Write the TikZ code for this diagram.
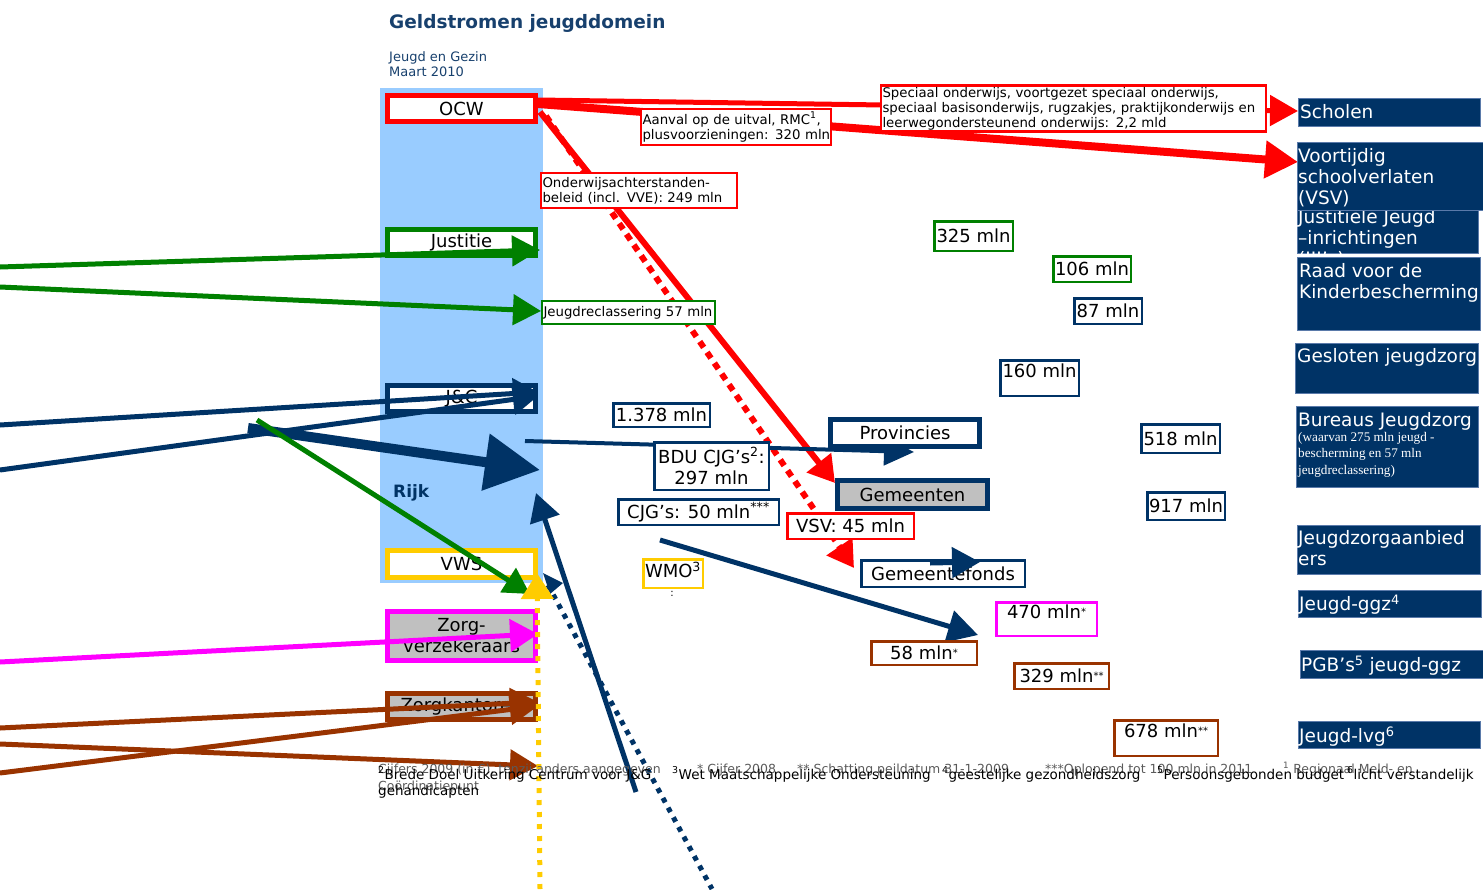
\documentclass[tikz,border=0pt]{standalone}
\usepackage{fontspec}
\setmainfont{DejaVu Sans}
\newfontfamily\subserif{Liberation Serif}
\usetikzlibrary{arrows.meta}
\definecolor{cred}{HTML}{FF0000}
\definecolor{cgreen}{HTML}{008000}
\definecolor{cnavy}{HTML}{003366}
\definecolor{cyellow}{HTML}{FFCC00}
\definecolor{cmag}{HTML}{FF00FF}
\definecolor{cbrown}{HTML}{993300}
\definecolor{cltblue}{HTML}{99CCFF}
\definecolor{cgray}{HTML}{C0C0C0}
\definecolor{ctitle}{HTML}{17406D}
\definecolor{cedge}{HTML}{5A7AAA}
\definecolor{cfoot}{HTML}{5A5A5A}
\newcommand{\myfs}[2]{\fontsize{#1}{#2}\selectfont}
\pgfdeclarelayer{bg}
\pgfdeclarelayer{flows}
\pgfdeclarelayer{fg}
\pgfsetlayers{bg,flows,main,fg}
\begin{document}
\begin{tikzpicture}[x=1pt,y=-1pt,
  ministry/.style={draw, line width=5pt, fill=white, inner sep=0pt, minimum width=148pt, minimum height=26pt, font=\myfs{18}{21}, align=center},
  lab/.style={draw, line width=2.5pt, fill=white, inner sep=0pt, font=\myfs{18}{21}, align=center},
  mynote/.style={draw=cred, line width=2.5pt, fill=white, inner sep=1.5pt, font=\myfs{13.3}{15}, align=left},
  rbox/.style={fill=cnavy, draw=cedge, line width=1pt, anchor=north west, inner sep=0pt},
  rtext/.style={text=white, font=\myfs{18.5}{21}, align=left, anchor=north west, inner sep=1pt},
  myflow/.style={line width=5pt},
  foot/.style={anchor=base west, inner sep=0pt, font=\myfs{13.5}{16}},
  footg/.style={anchor=base west, inner sep=0pt, font=\myfs{12.5}{16}, text=cfoot},
]
\useasboundingbox (0,0) rectangle (1483,889);

% ---------- background: Rijk column and ministries ----------
\begin{pgfonlayer}{bg}
\fill[cltblue] (380,88) rectangle (543,583);
\node[ministry, draw=cred] (ocw) at (461.5,108.5) {OCW};
\node[ministry, draw=cgreen] (just) at (461.5,242.5) {Justitie};
\node[ministry, draw=cnavy] (jc) at (461.5,398.5) {J\&C};
\node[ministry, draw=cyellow, minimum height=27pt] (vws) at (461.5,564) {VWS};
\node[ministry, draw=cmag, fill=cgray, minimum height=49pt] (zv) at (461.5,636) {Zorg-\\verzekeraars};
\node[ministry, draw=cbrown, fill=cgray] (zk) at (461.5,706.5) {Zorgkantoren};
\node[anchor=west, inner sep=0pt, text=cnavy, font=\myfs{17}{20}\bfseries] (rijk) at (393,493) {Rijk};
\end{pgfonlayer}

% ---------- title ----------
\node[anchor=west, inner sep=0pt, text=ctitle, font=\myfs{18.5}{21}\bfseries] (title) at (389,23) {Geldstromen jeugddomein};
\node[anchor=north west, inner sep=0pt, text=ctitle, font=\myfs{13}{15}, align=left] (sub) at (389,51) {Jeugd en Gezin\\Maart 2010};

% ---------- right column ----------
\node[rbox, minimum width=182pt, minimum height=28pt] (scholen) at (1298,98) {};
\node[rtext] (scholent) at (1299,102.75) {\rule{0pt}{14pt}Scholen};
\begin{scope}
\clip (1296,210) rectangle (1480,253);
\node[rbox, minimum width=181pt, minimum height=43pt] (jji) at (1297,210) {};
\node[rtext] (jjit) at (1297,207.75) {\rule{0pt}{14pt}Justitiële Jeugd\\–inrichtingen\\(JJI’s)};
\end{scope}
\node[rbox, minimum width=186pt, minimum height=68pt] (vsv) at (1297,142) {};
\node[rtext] (vsvt) at (1297,146.75) {\rule{0pt}{14pt}Voortijdig\\schoolverlaten\\(VSV)};
\node[rbox, minimum width=183pt, minimum height=73pt] (raad) at (1297,257) {};
\node[rtext] (raadt) at (1298,261.75) {\rule{0pt}{14pt}Raad voor de\\Kinderbescherming};
\node[rbox, minimum width=183pt, minimum height=50pt] (gesl) at (1295,343) {};
\node[rtext] (geslt) at (1296,346.75) {\rule{0pt}{14pt}Gesloten jeugdzorg};
\node[rbox, minimum width=182pt, minimum height=81pt] (bjz) at (1296,406) {};
\node[rtext] (bjzt) at (1297,410.75) {\rule{0pt}{14pt}Bureaus Jeugdzorg};
\node[rtext, font=\subserif\myfs{13.2}{16.5}] (bjzs) at (1297,429.5) {\rule{0pt}{10.5pt}(waarvan 275 mln jeugd -\\bescherming en 57 mln\\jeugdreclassering)};
\node[rbox, minimum width=183pt, minimum height=49pt] (jza) at (1297,525) {};
\node[rtext] (jzat) at (1297,528.75) {\rule{0pt}{14pt}Jeugdzorgaanbied\\ers};
\node[rbox, minimum width=183pt, minimum height=27pt] (ggz) at (1298,590) {};
\node[rtext] (ggzt) at (1298,593.75) {\rule{0pt}{14pt}Jeugd-ggz\textsuperscript{4}};
\node[rbox, minimum width=183pt, minimum height=28pt] (pgb) at (1300,650) {};
\node[rtext] (pgbt) at (1300,654.75) {\rule{0pt}{14pt}PGB’s\textsuperscript{5} jeugd-ggz};
\node[rbox, minimum width=182pt, minimum height=27pt] (lvg) at (1298,721) {};
\node[rtext] (lvgt) at (1298,725.75) {\rule{0pt}{14pt}Jeugd-lvg\textsuperscript{6}};

% ---------- flow labels ----------
\node[mynote, text width=187pt, minimum height=36pt] (aanval) at (736,127) {\mbox{Aanval op de uitval, RMC\textsuperscript{1},}\\\mbox{plusvoorzieningen: 320 mln}};
\node[mynote, text width=382pt, minimum height=45pt] (spec) at (1073.5,108.5) {\mbox{Speciaal onderwijs, voortgezet speciaal onderwijs,}\\\mbox{speciaal basisonderwijs, rugzakjes, praktijkonderwijs en}\\\mbox{leerwegondersteunend onderwijs: 2,2 mld}};
\node[mynote, text width=193pt, minimum height=35pt] (oab) at (639,190.5) {\mbox{Onderwijsachterstanden-}\\\mbox{beleid (incl. VVE): 249 mln}};
\node[mynote, draw=cgreen, text width=170pt, minimum height=23pt] (jr) at (628.5,312.5) {\mbox{Jeugdreclassering 57 mln}};

\node[lab, draw=cgreen, minimum width=78.5pt, minimum height=29.5pt] (m325) at (973.5,236) {325 mln};
\node[lab, draw=cgreen, minimum width=77.5pt, minimum height=25.5pt] (m106) at (1092,269) {106 mln};
\node[lab, draw=cnavy, minimum width=67.5pt, minimum height=25.5pt] (m87) at (1108,311) {87 mln};
\node[lab, draw=cnavy, minimum width=78.5pt, minimum height=35.5pt, text depth=14pt] (m160) at (1039.5,378) {160 mln};
\node[lab, draw=cnavy, minimum width=96.5pt, minimum height=23.5pt] (m1378) at (661.5,415) {1.378 mln};
\node[lab, draw=cnavy, minimum width=114.5pt, minimum height=47.5pt] (bdu) at (711.5,466) {BDU CJG’s\textsuperscript{2}:\\297 mln};
\node[lab, draw=cnavy, minimum width=160.5pt, minimum height=25.5pt] (cjg) at (698.5,512) {CJG’s: 50 mln\textsuperscript{***}};
\node[lab, draw=cnavy, line width=5pt, minimum width=149pt, minimum height=27pt] (prov) at (905,433) {Provincies};
\node[lab, draw=cnavy, fill=cgray, line width=5pt, minimum width=150pt, minimum height=28pt] (gem) at (912.5,494.5) {Gemeenten};
\node[lab, draw=cred, minimum width=126.5pt, minimum height=25.5pt] (vsvl) at (850.5,526) {VSV: 45 mln};
\node[lab, draw=cnavy, minimum width=163.5pt, minimum height=26.5pt] (gfonds) at (943,573.5) {Gemeentefonds};
\node[lab, draw=cyellow, minimum width=59.5pt, minimum height=28.5pt, text depth=7pt] (wmo) at (673,573.5) {WMO\textsuperscript{3}};
\node[inner sep=0pt, font=\myfs{10}{10}] (wmodots) at (672,594) {:};
\node[lab, draw=cnavy, minimum width=78.5pt, minimum height=28.5pt] (m518) at (1180.5,438.5) {518 mln};
\node[lab, draw=cnavy, minimum width=77.5pt, minimum height=27.5pt] (m917) at (1186,506) {917 mln};
\node[lab, draw=cmag, minimum width=100.5pt, minimum height=33.5pt, text depth=14pt] (m470) at (1046.5,619) {470 mln{\myfs{10}{10}\raisebox{3pt}{*}}};
\node[lab, draw=cbrown, minimum width=105.5pt, minimum height=23.5pt] (m58) at (924,653) {58 mln{\myfs{10}{10}\raisebox{3pt}{*}}};
\node[lab, draw=cbrown, minimum width=94.5pt, minimum height=25.5pt] (m329) at (1061.5,676) {329 mln{\myfs{10}{10}\raisebox{3pt}{**}}};
\node[lab, draw=cbrown, minimum width=103.5pt, minimum height=35.5pt, text depth=14pt] (m678) at (1166,738) {678 mln{\myfs{10}{10}\raisebox{3pt}{**}}};

% ---------- named free ends ----------
\coordinate (ocwA) at (538,100);
\coordinate (ocwB) at (538,104);
\coordinate (ocwC) at (540,112);
\coordinate (ocwD) at (546,116);
\coordinate (scholenIn) at (1298,111);
\coordinate (vsvIn) at (1298,162);
\coordinate (gemIn) at (835,483);
\coordinate (gfIn) at (854,568);
\coordinate (gL1) at (0,267);
\coordinate (gL2) at (0,287);
\coordinate (gD) at (257,420);
\coordinate (justIn) at (540,250);
\coordinate (jrIn) at (541,311);
\coordinate (vwsG) at (530,594);
\coordinate (nL1) at (0,425);
\coordinate (nL2) at (0,470);
\coordinate (jcIn1) at (538,392);
\coordinate (jcIn2) at (538,396);
\coordinate (thickS) at (248,428);
\coordinate (rijkIn) at (540,470);
\coordinate (provS) at (525,441);
\coordinate (provIn) at (914,452);
\coordinate (cjgS) at (660,540);
\coordinate (m58In) at (978,635);
\coordinate (upS) at (636,792);
\coordinate (upE) at (536,493);
\coordinate (dotS) at (548,585);
\coordinate (dotE) at (712,889);
\coordinate (mL) at (0,662);
\coordinate (zvIn) at (538,634);
\coordinate (bL1) at (0,728);
\coordinate (bL2) at (0,773);
\coordinate (bL3) at (0,744);
\coordinate (zkIn1) at (538,702);
\coordinate (zkIn2) at (538,706);
\coordinate (bOut) at (538,766);
\coordinate (yB) at (540,889);
\coordinate (yT) at (537,573);
\coordinate (gfS) at (930,563);
\coordinate (gfE) at (980,562);

% ---------- flows ----------
\begin{pgfonlayer}{flows}
\draw[cred, line width=5pt, -{Triangle[length=28pt,width=30pt]}] (ocwA) -- (scholenIn);
\draw[cred, line width=8pt, -{Triangle[length=33pt,width=36pt]}] (ocwB) -- (vsvIn);
\draw[cred, line width=6pt, -{Triangle[length=26pt,width=30pt]}] (ocwC) -- (gemIn);
\draw[cred, line width=6pt, dash pattern=on 7pt off 6pt, -{Triangle[length=26pt,width=30pt]}] (ocwD) -- (gfIn);
\draw[cgreen, myflow, -{Triangle[length=28pt,width=30pt]}] (gL1) -- (justIn);
\draw[cgreen, myflow, -{Triangle[length=28pt,width=30pt]}] (gL2) -- (jrIn);
\draw[cnavy, myflow, -{Triangle[length=25pt,width=30pt]}] (nL1) -- (jcIn1);
\draw[cnavy, myflow, -{Triangle[length=25pt,width=30pt]}] (nL2) -- (jcIn2);
\draw[cnavy, line width=10pt, -{Triangle[length=55pt,width=55pt]}] (thickS) -- (rijkIn);
\draw[cnavy, line width=4pt, -{Triangle[length=30pt,width=28pt]}] (provS) -- (provIn);
\draw[cnavy, myflow, -{Triangle[length=30pt,width=32pt]}] (cjgS) -- (m58In);
\draw[cnavy, myflow, -{Triangle[length=28pt,width=30pt]}] (upS) -- (upE);
\draw[cnavy, myflow, dash pattern=on 5pt off 6pt] (dotS) -- (dotE);
\fill[cnavy] (543,573) -- (563,583) -- (550,594) -- cycle;
\draw[cmag, myflow, -{Triangle[length=28pt,width=32pt]}] (mL) -- (zvIn);
\draw[cbrown, myflow, -{Triangle[length=28pt,width=30pt]}] (bL1) -- (zkIn1);
\draw[cbrown, myflow, -{Triangle[length=28pt,width=30pt]}] (bL2) -- (zkIn2);
\draw[cbrown, myflow, -{Triangle[length=28pt,width=30pt]}] (bL3) -- (bOut);
\draw[cgreen, myflow, -{Triangle[length=26pt,width=28pt]}] (gD) -- (vwsG);
\draw[cyellow, myflow, dash pattern=on 5pt off 7pt, -{Triangle[length=26pt,width=32pt]}] (yB) -- (yT);
\end{pgfonlayer}

% ---------- foreground ----------
\begin{pgfonlayer}{fg}
\draw[cnavy, myflow, -{Triangle[length=28pt,width=30pt]}] (gfS) -- (gfE);
\node[footg] (fa1) at (378,773) {Cijfers 2009 (in €), tenzij anders aangegeven};
\node[footg] (fa2) at (697,773) {* Cijfer 2008};
\node[footg] (fa3) at (797,773) {** Schatting peildatum 31-1-2009};
\node[footg] (fa4) at (1045,773) {***Oplopend tot 100 mln in 2011};
\node[footg] (fa5) at (1283,773) {\textsuperscript{1} Regionaal Meld- en};
\node[footg] (fa6) at (378,790) {Coördinatiepunt};
\node[foot] (fb1) at (378,779) {\textsuperscript{2}Brede Doel Uitkering Centrum voor J\&G};
\node[foot] (fb2) at (672,779) {\textsuperscript{3}Wet Maatschappelijke Ondersteuning};
\node[foot] (fb3) at (942,779) {\textsuperscript{4}geestelijke gezondheidszorg};
\node[foot] (fb4) at (1157,779) {\textsuperscript{5}Persoonsgebonden budget};
\node[foot] (fb5) at (1347,779) {\textsuperscript{6}licht verstandelijk};
\node[foot] (fb6) at (378,795) {gehandicapten};
\end{pgfonlayer}
\end{tikzpicture}
\end{document}
